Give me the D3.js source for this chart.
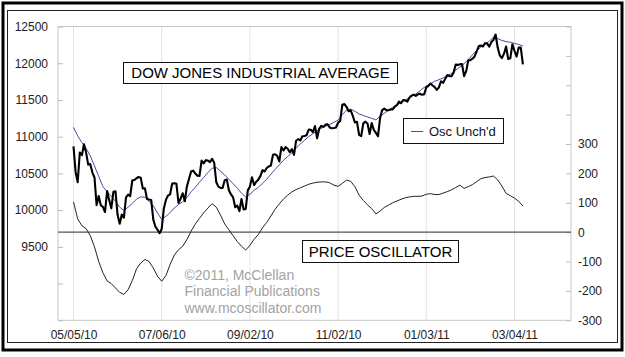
<!DOCTYPE html>
<html><head><meta charset="utf-8">
<script src="https://cdn.jsdelivr.net/npm/d3@7"></script>
<style>
body{margin:0;background:#fff}
svg{display:block}
text{font-family:Arial,"Liberation Sans",sans-serif}
</style>
</head><body>
<svg id="c" width="625" height="357"></svg>
<script>
// ---- DATA ----
// Dow Jones Industrial Average, daily closes 05/05/10 .. 03/10/11 (one per trading day)
const price = [10868,10520,10380,10785,10748,10897,10783,10620,10626,10511,
10444,10068,10193,10067,10044,9974,10259,10137,10024,10250,
10255,9932,9816,9940,9899,10173,10211,10191,10405,10409,
10434,10451,10442,10294,10298,10153,10144,10139,9870,9774,
9733,9686,9744,10018,10139,10198,10216,10363,10367,10359,
10098,10154,10230,10121,10322,10425,10525,10538,10498,10467,
10466,10674,10636,10680,10675,10654,10699,10644,10379,10320,
10303,10302,10406,10416,10271,10214,10174,10040,10060,9986,
10151,10010,10015,10269,10320,10448,10341,10387,10415,10463,
10544,10526,10573,10595,10608,10754,10761,10739,10662,10860,
10812,10858,10835,10788,10830,10751,10945,10968,10949,11006,
11010,11020,11096,11095,11063,11144,10979,11108,11147,11133,
11164,11169,11126,11114,11118,11125,11189,11215,11435,11444,
11407,11347,11357,11283,11193,11202,11024,11008,11181,11204,
11179,11036,11187,11092,11052,11006,11256,11362,11382,11362,
11359,11372,11370,11410,11429,11477,11457,11499,11492,11478,
11533,11559,11573,11555,11576,11585,11570,11578,11671,11691,
11723,11697,11675,11637,11672,11755,11732,11787,11838,11825,
11823,11872,11981,11977,11985,11990,11824,11892,12040,12042,
12062,12092,12162,12233,12240,12229,12273,12268,12227,12288,
12318,12391,12213,12106,12069,12130,12226,12058,12067,12258,
12170,12090,12214,12213,11985];

// "Osc Unch'd" level and Price Oscillator, read every 2nd trading day
const seriesStep = 2;
const oscUnchd = [11127,11010,10920,10840,10740,10600,10460,10320,10250,10190,
10120,10040,9995,10040,10090,10150,10180,10175,10120,10060,
9960,9875,9915,9965,10030,10075,10115,10170,10250,10310,
10380,10445,10510,10570,10580,10530,10480,10420,10360,10300,
10230,10180,10215,10270,10310,10365,10420,10490,10555,10615,
10680,10730,10780,10845,10900,10950,11000,11040,11080,11115,
11140,11165,11195,11225,11300,11360,11375,11345,11310,11290,
11268,11250,11228,11280,11318,11360,11400,11430,11465,11500,
11530,11565,11600,11650,11690,11720,11755,11775,11800,11830,
11862,11905,11950,11995,12050,12115,12175,12220,12260,12300,
12355,12335,12310,12295,12285,12270,12255,12234];

const oscillator = [103,45,22,12,-12,-50,-100,-138,-166,-175,
-190,-205,-212,-196,-165,-125,-105,-93,-100,-122,
-150,-167,-148,-110,-78,-60,-48,-25,3,28,
47,66,82,97,85,58,28,8,-12,-32,
-48,-61,-45,-24,-8,15,33,55,78,96,
113,126,137,145,151,157,163,167,170,171,
171,168,160,156,166,177,173,155,126,108,
93,80,62,72,84,92,100,106,112,117,
120,122,122,123,129,131,128,128,133,138,
144,152,160,149,155,162,172,182,186,188,
191,178,157,132,124,116,105,89];

const xTickIndex = [0,42,84,126,168,210];
const xTickLabels = ["05/05/10","07/06/10","09/02/10","11/02/10","01/03/11","03/04/11"];
const leftTicks = [8500,9000,9500,10000,10500,11000,11500,12000,12500];
const leftMinLabel = 9500;
const rightTicks = [-300,-200,-100,0,100,200,300,400,500,600,700];
const rightMaxLabel = 300;
const titleText = "DOW JONES INDUSTRIAL AVERAGE";
const oscTitleText = "PRICE OSCILLATOR";
const legendText = "Osc Unch'd";
const creditLines = ["\u00A92011, McClellan","Financial Publications","www.mcoscillator.com"];

// ---- LAYOUT ----
const svg = d3.select("#c");
const plot = {l:58, r:571, t:26.5, b:320.3};
const x = d3.scaleLinear().domain([0,210]).range([73.5,514.5]);
const yL = d3.scaleLinear().domain([8500,12500]).range([plot.b, plot.t]);
const yR = d3.scaleLinear().domain([-300,700]).range([plot.b, plot.t]);

svg.append("rect").attr("width",625).attr("height",357).attr("fill","#fff");
// outer borders
svg.append("rect").attr("x",3).attr("y",3).attr("width",619).attr("height",347)
  .attr("fill","none").attr("stroke","#000").attr("stroke-width",3);
svg.append("rect").attr("x",7.5).attr("y",10.5).attr("width",610).attr("height",332)
  .attr("fill","none").attr("stroke","#222").attr("stroke-width",1);

// plot frame
svg.append("rect").attr("x",plot.l).attr("y",plot.t).attr("width",plot.r-plot.l).attr("height",plot.b-plot.t)
  .attr("fill","none").attr("stroke","#c8c8c8").attr("stroke-width",1);

// vertical gridlines
svg.append("g").selectAll("line").data(xTickIndex).join("line")
  .attr("x1",d=>x(d)).attr("x2",d=>x(d)).attr("y1",plot.t).attr("y2",plot.b)
  .attr("stroke","#c4c4c4").attr("stroke-width",1).attr("stroke-dasharray","1,1");

// left axis
const gl = svg.append("g").attr("transform",`translate(${plot.l},0)`)
  .call(d3.axisLeft(yL).tickValues(leftTicks).tickSize(-5).tickPadding(10)
    .tickFormat(d=> d>=leftMinLabel ? d : ""));
gl.select(".domain").remove();
gl.selectAll("line").attr("stroke","#bbb");
gl.selectAll("text").attr("font-size",12).attr("fill","#222").attr("font-family","Arial, 'Liberation Sans', sans-serif");

// right axis
const gr = svg.append("g").attr("transform",`translate(${plot.r},0)`)
  .call(d3.axisRight(yR).tickValues(rightTicks).tickSize(-5).tickPadding(7)
    .tickFormat(d=> d<=rightMaxLabel ? d : ""));
gr.select(".domain").remove();
gr.selectAll("line").attr("stroke","#bbb");
gr.selectAll("text").attr("font-size",12).attr("fill","#222").attr("font-family","Arial, 'Liberation Sans', sans-serif");

// bottom axis
const gb = svg.append("g").attr("transform",`translate(0,${plot.b})`)
  .call(d3.axisBottom(x).tickValues(xTickIndex).tickSize(0).tickPadding(10)
    .tickFormat((d,i)=>xTickLabels[i]));
gb.select(".domain").remove();
gb.selectAll("text").attr("font-size",12).attr("fill","#222").attr("font-family","Arial, 'Liberation Sans', sans-serif");

// credit watermark
svg.append("g").selectAll("text").data(creditLines).join("text")
  .attr("x",184.5).attr("y",(d,i)=>280+i*16.3)
  .attr("font-size",14).attr("fill","#a3a3a3").text(d=>d);

// zero line
svg.append("line").attr("x1",plot.l).attr("x2",plot.r).attr("y1",yR(0)).attr("y2",yR(0))
  .attr("stroke","#555").attr("stroke-width",1.3);

// series
const lineStep = (scale) => d3.line().x((d,i)=>x(i*seriesStep)).y(d=>scale(d));
svg.append("path").datum(oscillator).attr("d",lineStep(yR))
  .attr("fill","none").attr("stroke","#222").attr("stroke-width",1);
svg.append("path").datum(oscUnchd).attr("d",lineStep(yL))
  .attr("fill","none").attr("stroke","#4a4aa6").attr("stroke-width",1);
svg.append("path").datum(price).attr("d",d3.line().x((d,i)=>x(i)).y(d=>yL(d)))
  .attr("fill","none").attr("stroke","#000").attr("stroke-width",2.1).attr("stroke-linejoin","round");

// title boxes
function box(x0,y0,w,h,txt,fs){
  svg.append("rect").attr("x",x0).attr("y",y0).attr("width",w).attr("height",h)
    .attr("fill","#fff").attr("stroke","#111").attr("stroke-width",1);
  svg.append("text").attr("x",x0+w/2).attr("y",y0+h/2).attr("dy","0.36em")
    .attr("text-anchor","middle").attr("font-size",fs).attr("fill","#000").text(txt);
}
box(123.5,62.5,274,21,titleText,15);
box(302.5,240.5,156,22,oscTitleText,15);

// legend
svg.append("rect").attr("x",403.5).attr("y",118.5).attr("width",100).attr("height",25)
  .attr("fill","#fff").attr("stroke","#111").attr("stroke-width",1);
svg.append("line").attr("x1",411).attr("x2",423).attr("y1",131.5).attr("y2",131.5)
  .attr("stroke","#4a4aa6").attr("stroke-width",1);
svg.append("text").attr("x",429).attr("y",131.5).attr("dy","0.36em")
  .attr("font-size",13).attr("fill","#111").text(legendText);
</script>
</body></html>
